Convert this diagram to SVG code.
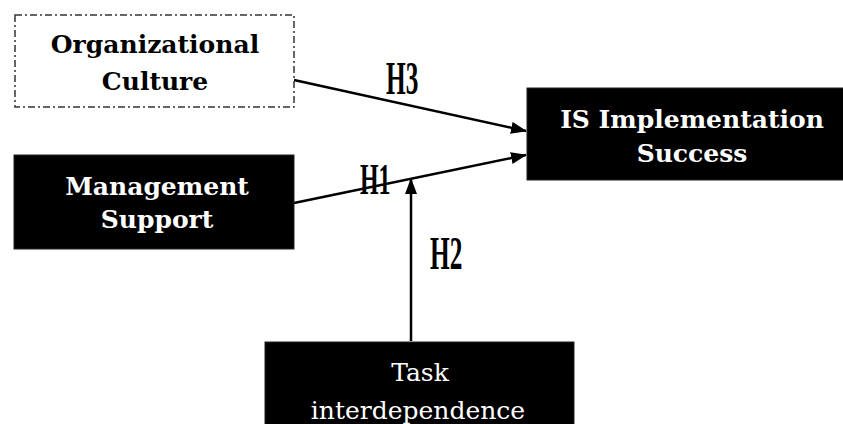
<svg xmlns="http://www.w3.org/2000/svg" width="843" height="424" viewBox="0 0 843 424">
<style>
.box{fill:#000;stroke:#222;stroke-width:1}
.dbox{fill:#fff;stroke:#333;stroke-width:1.5;stroke-dasharray:7,3,2,3}
.t{font-family:"DejaVu Serif","Liberation Serif",serif;font-size:25px;text-anchor:middle}
.b{font-weight:bold}
.w{fill:#fff}
.k{fill:#000}
.conn{stroke:#000;stroke-width:2.5;fill:none}
.h{font-family:"Liberation Serif",serif;font-weight:bold;font-size:46px;fill:#000}
</style>
<defs>
<marker id="arr" markerWidth="16" markerHeight="12" refX="15" refY="6" orient="auto" markerUnits="userSpaceOnUse">
<path d="M0,0 L16,6 L0,12 Z" fill="#000"/>
</marker>
</defs>
<rect width="843" height="424" fill="#fff"/>
<g id="connectors">
<line class="conn" x1="294" y1="80" x2="526" y2="131" marker-end="url(#arr)"/>
<line class="conn" x1="294" y1="203" x2="526" y2="155" marker-end="url(#arr)"/>
<line class="conn" x1="411" y1="341" x2="411" y2="179" marker-end="url(#arr)"/>
<text class="h" transform="translate(386,94) scale(0.55,1)">H3</text>
<text class="h" transform="translate(360,194) scale(0.52,0.95)">H1</text>
<text class="h" transform="translate(430,269) scale(0.55,1)">H2</text>
</g>
<g id="org-culture">
<rect class="dbox" x="15" y="15" width="279" height="92"/>
<text class="t b k" x="155" y="53">Organizational</text>
<text class="t b k" x="155" y="90">Culture</text>
</g>
<g id="is-success">
<rect class="box" x="527" y="88" width="320" height="92"/>
<text class="t b w" x="692" y="128">IS Implementation</text>
<text class="t b w" x="692" y="162">Success</text>
</g>
<g id="mgmt-support">
<rect class="box" x="14" y="155" width="280" height="94"/>
<text class="t b w" x="157" y="195">Management</text>
<text class="t b w" x="157" y="228">Support</text>
</g>
<g id="task-interdependence">
<rect class="box" x="265" y="342" width="309" height="90"/>
<text class="t w" x="420" y="381">Task</text>
<text class="t w" x="418" y="419">interdependence</text>
</g>
</svg>
